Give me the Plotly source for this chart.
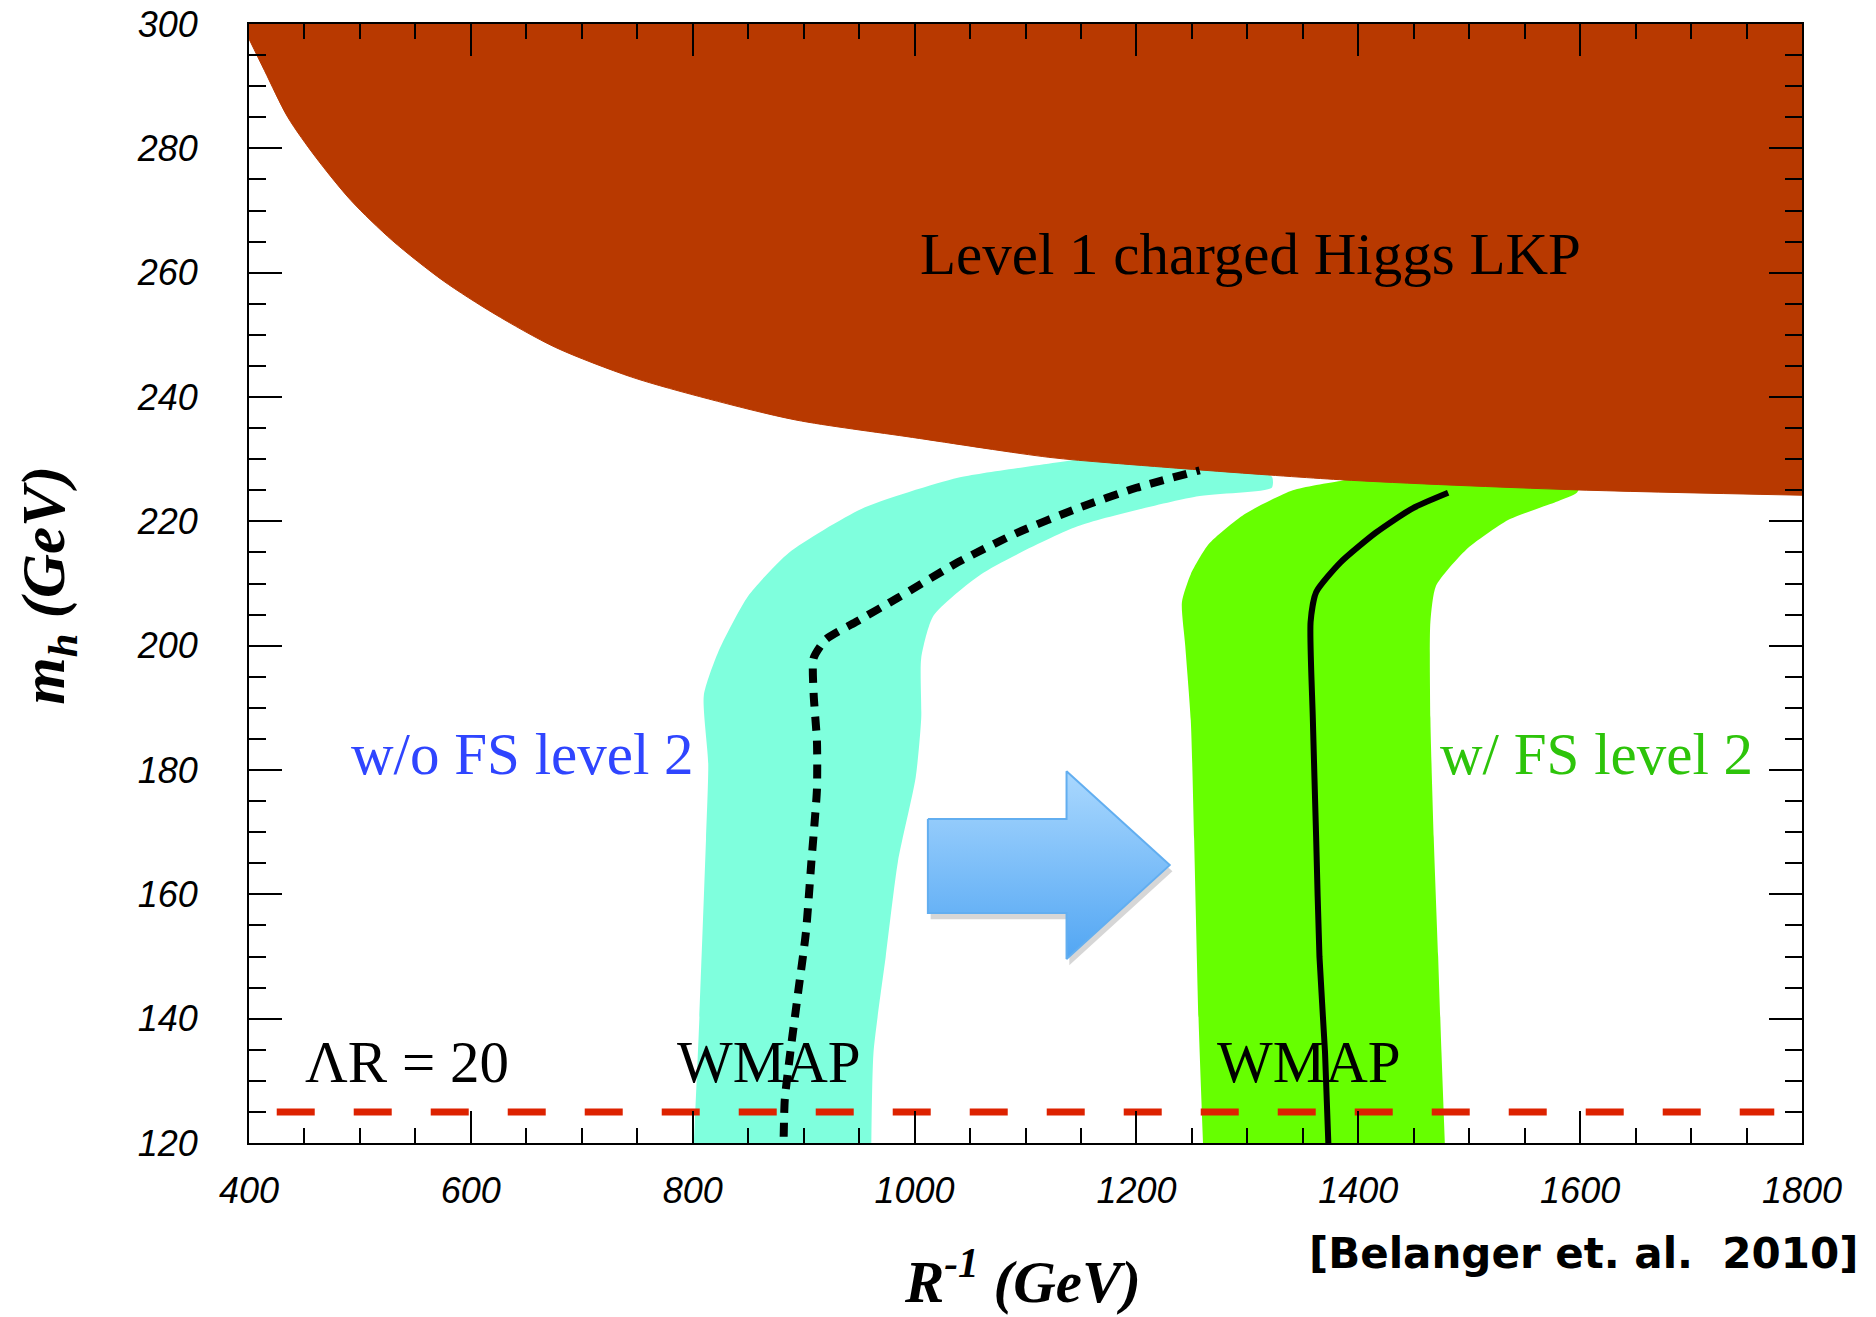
import plotly.graph_objects as go

# ---------------- data ----------------
# lower boundary of the "Level 1 charged Higgs LKP" excluded region
brown_x = [400, 414, 435, 460, 492, 529, 575, 621, 676, 745, 814, 893, 998, 1121, 1176, 1383, 1590, 1800]
brown_y = [297.6, 292.5, 285.0, 278.6, 271.6, 265.2, 258.7, 253.4, 248.0, 243.2, 239.7, 236.3, 233.5, 230.3, 229.4, 226.7, 225.1, 224.2]
top_y = 300

# WMAP band without FS level 2 (cyan)
cyan_left_x = [801, 806, 812, 814, 810, 823, 850, 887, 952, 1039, 1147, 1200]
cyan_left_y = [120, 140, 169, 181, 192, 199, 208, 215, 222, 227, 230, 232]
cyan_right_x = [1322, 1322, 1254, 1147, 1060, 1017, 1006, 1006, 1001, 985, 974, 963, 961]
cyan_right_y = [227.2, 225.4, 224.0, 219.2, 211.5, 204.8, 198.0, 188.4, 178.8, 165.3, 150.0, 134.6, 120]

# WMAP band with FS level 2 (green)
green_left_x = [1260, 1256, 1252, 1249, 1244, 1241, 1249, 1265, 1297, 1341, 1384, 1450]
green_left_y = [120, 140, 169, 188, 200, 207, 211.5, 216.3, 221.1, 225, 226.5, 228]
green_right_x = [1600, 1597, 1578, 1535, 1497, 1470, 1465, 1465, 1468, 1472, 1475, 1478]
green_right_y = [226, 224.6, 223.1, 220.2, 215.4, 209.6, 203.8, 188.4, 169.2, 150, 134.6, 120]

# central curves
dash_x = [882, 883, 888, 895, 902, 907, 912, 912, 909, 909, 920, 947, 985, 1039, 1093, 1147, 1200, 1257]
dash_y = [121, 127, 134.6, 144.2, 153.8, 165.3, 176.9, 184.6, 192.3, 198, 201, 203.8, 207.7, 213.4, 218.2, 222.1, 225.4, 228.2]
solid_x = [1373, 1370, 1365, 1362, 1359, 1357, 1362, 1384, 1416, 1449, 1481]
solid_y = [120, 134.6, 150, 169.2, 188.4, 203.8, 208.6, 213.4, 218.2, 222.1, 224.6]

# Higgs mass line
mh_line_x = [425, 1775]
mh_line_y = [125, 125]

# block arrow outline
arrow_x = [1012, 1137, 1137, 1230, 1137, 1137, 1012, 1012]
arrow_y = [172.1, 172.1, 179.8, 164.7, 149.6, 157.0, 157.0, 172.1]

x_ticks = [400, 600, 800, 1000, 1200, 1400, 1600, 1800]
y_ticks = [120, 140, 160, 180, 200, 220, 240, 260, 280, 300]

# ---------------- styles ----------------
BROWN = "#B83900"
CYAN = "#7FFFDD"
GREEN = "#66FF00"
RED = "#DD2200"
SERIF = "Liberation Serif"

fig = go.Figure()

fig.add_trace(go.Scatter(
    x=cyan_left_x + cyan_right_x, y=cyan_left_y + cyan_right_y,
    mode="lines", fill="toself", fillcolor=CYAN,
    line=dict(width=0, color=CYAN, shape="spline", smoothing=0.6),
    hoverinfo="skip", showlegend=False))
fig.add_trace(go.Scatter(
    x=green_left_x + green_right_x, y=green_left_y + green_right_y,
    mode="lines", fill="toself", fillcolor=GREEN,
    line=dict(width=0, color=GREEN, shape="spline", smoothing=0.6),
    hoverinfo="skip", showlegend=False))

# brown excluded region: fill between the top edge and the smooth boundary
fig.add_trace(go.Scatter(
    x=brown_x, y=[top_y] * len(brown_x), mode="lines",
    line=dict(width=0, color=BROWN), hoverinfo="skip", showlegend=False))
fig.add_trace(go.Scatter(
    x=brown_x, y=brown_y, mode="lines", fill="tonexty", fillcolor=BROWN,
    line=dict(width=1, color=BROWN, shape="spline", smoothing=0.8),
    hoverinfo="skip", showlegend=False))

# arrow shadow + arrow
fig.add_trace(go.Scatter(
    x=[v + 2.5 for v in arrow_x], y=[v - 1.0 for v in arrow_y],
    mode="lines", fill="toself", fillcolor="rgba(0,0,0,0.16)",
    line=dict(width=0), hoverinfo="skip", showlegend=False))
fig.add_trace(go.Scatter(
    x=arrow_x, y=arrow_y, mode="lines", fill="toself",
    fillgradient=dict(type="vertical",
                      colorscale=[[0, "#52A6F3"], [1, "#AAD8FE"]]),
    line=dict(width=2, color="#62AEF0"),
    hoverinfo="skip", showlegend=False))

fig.add_trace(go.Scatter(
    x=dash_x, y=dash_y, mode="lines",
    line=dict(color="black", width=8, dash="14px,10px", shape="spline", smoothing=0.6),
    hoverinfo="skip", showlegend=False))
fig.add_trace(go.Scatter(
    x=solid_x, y=solid_y, mode="lines",
    line=dict(color="black", width=6, shape="spline", smoothing=0.6),
    hoverinfo="skip", showlegend=False))
fig.add_trace(go.Scatter(
    x=mh_line_x, y=mh_line_y, mode="lines",
    line=dict(color=RED, width=7, dash="38px,39px"),
    hoverinfo="skip", showlegend=False))

# ---------------- text ----------------
def label(text, x, y, color="black", size=59):
    fig.add_annotation(x=x, y=y, xref="x", yref="y", text=text, showarrow=False,
                       font=dict(family=SERIF, size=size, color=color),
                       xanchor="center", yanchor="middle")

label("Level 1 charged Higgs LKP", 1303, 263)
label("w/o FS level 2", 647, 182.6, color="#2F45FF")
label("w/ FS level 2", 1615, 182.6, color="#2DC40A")
label("ΛR = 20", 542, 133)
label("WMAP", 869, 133)
label("WMAP", 1356, 133)

fig.add_annotation(xref="paper", yref="paper", x=-0.1294, y=0.498,
                   text="<b><i>m<sub>h</sub> (GeV)</i></b>", textangle=-90,
                   showarrow=False, font=dict(family=SERIF, size=61, color="black"),
                   xanchor="center", yanchor="middle")
fig.add_annotation(xref="paper", yref="paper", x=0.498, y=-0.1545,
                   text="<b><i>R<sup>-1</sup> (GeV)</i></b>",
                   showarrow=False, font=dict(family=SERIF, size=59, color="black"),
                   xanchor="center", yanchor="bottom", borderpad=0)
fig.add_annotation(xref="paper", yref="paper", x=1.0374, y=-0.0987,
                   text="[Belanger et. al.\u00a0 2010]",
                   showarrow=False, font=dict(family="DejaVu Sans", size=42, color="black", weight="bold"),
                   xanchor="right", yanchor="middle")

tickfont = dict(family="Liberation Sans", size=36, color="black", style="italic")

fig.update_xaxes(range=[400, 1800], tickmode="array", tickvals=x_ticks,
                 ticktext=[str(v) for v in x_ticks],
                 ticks="inside", ticklen=32, tickwidth=2, tickcolor="black",
                 minor=dict(ticks="inside", ticklen=15, tickwidth=2, tickcolor="black",
                            dtick=50, tick0=400, showgrid=False),
                 showline=True, linecolor="black", linewidth=2, mirror="ticks",
                 showgrid=False, zeroline=False, tickfont=tickfont,
                 ticklabelstandoff=15)
fig.update_yaxes(range=[120, 300], tickmode="array", tickvals=y_ticks,
                 ticktext=[str(v) for v in y_ticks],
                 ticks="inside", ticklen=33, tickwidth=2, tickcolor="black",
                 minor=dict(ticks="inside", ticklen=17, tickwidth=2, tickcolor="black",
                            dtick=5, tick0=120, showgrid=False),
                 showline=True, linecolor="black", linewidth=2, mirror="ticks",
                 showgrid=False, zeroline=False, tickfont=tickfont,
                 ticklabelstandoff=42)

fig.update_layout(width=1876, height=1317,
                  margin=dict(l=249, r=74, t=24, b=174, autoexpand=False),
                  plot_bgcolor="white", paper_bgcolor="white",
                  showlegend=False)

fig.write_html("out.html", config={"displayModeBar": False},
               post_script="document.body.style.margin='0px';document.body.style.overflow='hidden';")
